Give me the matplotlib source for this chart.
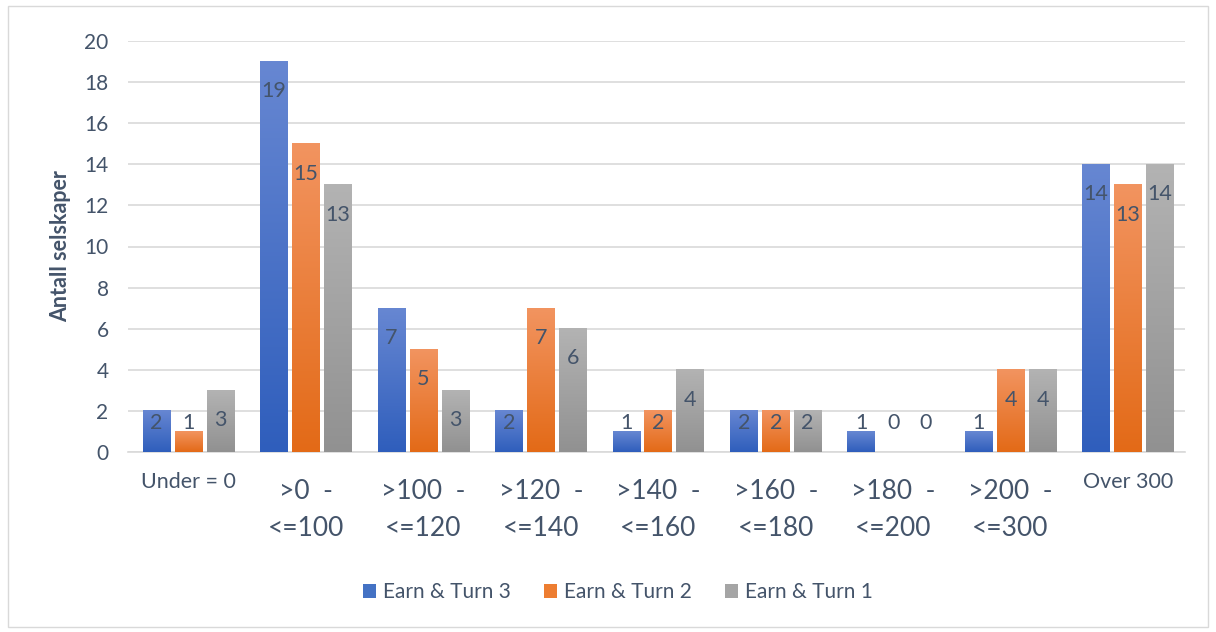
import numpy as np
import matplotlib
matplotlib.use("Agg")
import matplotlib.pyplot as plt
from matplotlib.colors import LinearSegmentedColormap
from matplotlib.patches import Rectangle, Patch

categories = ["Under = 0", ">0  -\n<=100", ">100  -\n<=120", ">120  -\n<=140", ">140  -\n<=160",
              ">160  -\n<=180", ">180  -\n<=200", ">200  -\n<=300", "Over 300"]
series_names = ["Earn & Turn 3", "Earn & Turn 2", "Earn & Turn 1"]
earn3 = [2, 19, 7, 2, 1, 2, 1, 1, 14]
earn2 = [1, 15, 5, 7, 2, 2, 0, 4, 13]
earn1 = [3, 13, 3, 6, 4, 2, 0, 4, 14]
series = [earn3, earn2, earn1]
yticks = [0, 2, 4, 6, 8, 10, 12, 14, 16, 18, 20]

tops = ["#6787D2", "#F29460", "#B3B3B3"]
bots = ["#2F5EBC", "#E36A17", "#919191"]
solid = ["#4472C4", "#ED7D31", "#A5A5A5"]

txt = "#44546A"
plt.rcParams['font.family'] = ['Lato', 'DejaVu Sans']

fig = plt.figure(figsize=(12.16, 6.32), dpi=100)
ax = fig.add_axes([128/1216, 1-452/632, (1185-128)/1216, 411/632])

fig.patches.append(Rectangle((8/1216, 1-627/632), 1200/1216, 621/632, transform=fig.transFigure,
                             fill=False, edgecolor="#D9D9D9", linewidth=1.0))

x = np.arange(len(categories))
bw = 0.235
step = 0.272
grad = np.linspace(1, 0, 256).reshape(-1, 1)
for i, (vals, t, b) in enumerate(zip(series, tops, bots)):
    cmap = LinearSegmentedColormap.from_list(f"g{i}", [b, t])
    for xi, v in zip(x, vals):
        cx = xi + (i - 1) * step + 0.015
        if v > 0:
            ax.imshow(grad, extent=[cx - bw/2, cx + bw/2, 0, v], aspect='auto', cmap=cmap,
                      vmin=0, vmax=1, zorder=3, interpolation='bilinear')
        ly = max(v - 1.45, 1.42)
        ax.text(cx, ly, str(v), ha='center', va='center', fontsize=15.5, color=txt, zorder=5)

ax.set_xlim(-0.5, len(categories) - 0.5)
ax.set_ylim(0, 20)
ax.set_yticks(yticks)
ax.set_yticklabels([str(v) for v in yticks])
ax.yaxis.grid(True, color="#D9D9D9", linewidth=1.2, zorder=0)
ax.set_axisbelow(True)
for s in ["top", "right", "left"]:
    ax.spines[s].set_visible(False)
ax.spines["bottom"].set_color("#D9D9D9")
ax.spines["bottom"].set_linewidth(1.2)
ax.tick_params(axis='both', length=0, colors=txt)
ax.tick_params(axis='y', labelsize=15, pad=14)
ax.set_xticks(x)
ax.set_xticklabels([])
for xi, lab in zip(x, categories):
    if "\n" in lab:
        ax.text(xi + 0.015, -1.3, lab, ha='center', va='top', fontsize=19, color=txt,
                linespacing=1.62, transform=ax.transData)
    else:
        ax.text(xi + 0.015, -0.95, lab, ha='center', va='top', fontsize=15.5, color=txt,
                transform=ax.transData)
ax.set_ylabel("Antall selskaper", fontsize=15.5, fontweight='bold', color=txt)
ax.yaxis.set_label_coords((71 - 128) / 1057, 0.5)

handles = [Patch(facecolor=c, edgecolor='none') for c in solid]
fig.legend(handles, series_names, loc='center', bbox_to_anchor=(0.508, 1 - 592/632), ncol=3,
           frameon=False, fontsize=15, labelcolor=txt, handlelength=0.65, handleheight=0.65,
           handletextpad=0.3, columnspacing=1.6)

fig.savefig("out.png", dpi=100)
